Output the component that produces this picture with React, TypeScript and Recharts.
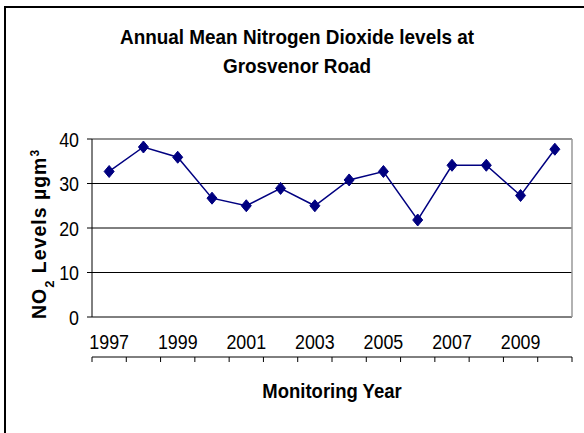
import { LineChart, Line, XAxis, YAxis, CartesianGrid, ReferenceLine, Label } from "recharts"

// Annual mean NO2 at Grosvenor Road
const years = [1997, 1998, 1999, 2000, 2001, 2002, 2003, 2004, 2005, 2006, 2007, 2008, 2009, 2010]
const no2 = [32.7, 38.2, 35.9, 26.7, 25.0, 28.9, 25.0, 30.8, 32.7, 21.8, 34.1, 34.1, 27.3, 37.7]
const yTicks = [0, 10, 20, 30, 40]
const yearLabels = [1997, 1999, 2001, 2003, 2005, 2007, 2009]

const data = years.map((year, i) => ({ year, no2: no2[i] }))
// category boundaries, Excel puts the tick marks between the years
const bandEdges = [...years.map((y) => y - 0.5), years[years.length - 1] + 0.5]
const xDomain = [bandEdges[0], bandEdges[bandEdges.length - 1]]

const SANS = "'Liberation Sans', Arial, sans-serif"
const NAVY = "#000080"
// no Arial Narrow here, so squeeze Liberation Sans instead
const SQUEEZE = 0.85

const Diamond = (props: any) => {
  const { cx, cy } = props
  if (cx == null || cy == null) return null
  return <path d={`M${cx},${cy - 6} L${cx + 5},${cy} L${cx},${cy + 6} L${cx - 5},${cy} Z`} fill={NAVY} stroke={NAVY} />
}

const XTick = (props: any) => {
  const { x, y, payload } = props
  return (
    <text transform={`translate(${x},${y}) scale(${SQUEEZE},1)`} y={15} textAnchor="middle" fontFamily={SANS} fontSize={21} fill="#000">
      {payload.value}
    </text>
  )
}

const YTick = (props: any) => {
  const { x, y, payload } = props
  return (
    <text transform={`translate(${x},${y}) scale(${SQUEEZE},1)`} y={7.5} textAnchor="end" fontFamily={SANS} fontSize={21} fill="#000">
      {payload.value}
    </text>
  )
}

const YTitle = (props: any) => {
  const vb = props.viewBox
  const x = vb.x + 46
  const y = vb.y + vb.height / 2 + 6
  return (
    <text
      x={x}
      y={y}
      transform={`rotate(-90 ${x} ${y})`}
      textAnchor="middle"
      fontFamily={SANS}
      fontWeight="bold"
      fontSize={19.5}
      letterSpacing={1}
      fill="#000"
    >
      NO<tspan baselineShift="sub" fontSize={13}>2</tspan>
      <tspan> Levels µgm</tspan>
      <tspan baselineShift="super" fontSize={12}>3</tspan>
    </text>
  )
}

export default function App() {
  return (
    <div style={{ position: "absolute", left: 0, top: 0, width: 584, height: 433, overflow: "hidden", background: "#fff" }}>
      <div
        style={{
          position: "absolute",
          left: 4,
          top: 6,
          width: 700,
          height: 600,
          borderLeft: "2px solid #000",
          borderTop: "2px solid #000",
        }}
      />
      <div
        style={{
          position: "absolute",
          left: 0,
          top: 21.5,
          width: 594,
          textAlign: "center",
          fontFamily: SANS,
          fontWeight: "bold",
          fontSize: 21,
          lineHeight: "29px",
          color: "#000",
          transform: "scaleX(0.9)",
          transformOrigin: "297px 0",
        }}
      >
        Annual Mean Nitrogen Dioxide levels at
        <br />
        Grosvenor Road
      </div>
      <div
        style={{
          position: "absolute",
          left: 92,
          top: 380,
          width: 480,
          textAlign: "center",
          fontFamily: SANS,
          fontWeight: "bold",
          fontSize: 21,
          lineHeight: "21px",
          color: "#000",
          transform: "scaleX(0.88)",
          transformOrigin: "240px 0",
        }}
      >
        Monitoring Year
      </div>
      <div style={{ position: "absolute", left: 0, top: 0 }}>
        <LineChart width={584} height={433} data={data} margin={{ top: 139, right: 12, left: 0, bottom: 70 }}>
          <CartesianGrid horizontal vertical={false} stroke="#000" strokeWidth={1} />
          <XAxis
            xAxisId="marks"
            dataKey="year"
            type="number"
            domain={xDomain}
            ticks={bandEdges}
            interval={0}
            tickFormatter={() => ""}
            tickSize={5}
            height={6}
            axisLine={{ stroke: "#000" }}
            tickLine={{ stroke: "#000" }}
          />
          <XAxis
            xAxisId="labels"
            dataKey="year"
            type="number"
            domain={xDomain}
            ticks={yearLabels}
            interval={0}
            tickSize={0}
            tickMargin={17}
            height={40}
            axisLine={false}
            tickLine={false}
            tick={<XTick />}
          />
          <YAxis
            domain={[0, 40]}
            ticks={yTicks}
            interval={0}
            width={92}
            tickSize={5}
            tickMargin={8}
            axisLine={{ stroke: "#000" }}
            tickLine={{ stroke: "#000" }}
            tick={<YTick />}
          >
            <Label content={<YTitle />} />
          </YAxis>
          <ReferenceLine y={40} xAxisId="marks" stroke="#999" strokeWidth={1.5} />
          <ReferenceLine x={xDomain[1]} xAxisId="marks" stroke="#999" strokeWidth={1.5} />
          <Line
            xAxisId="marks"
            dataKey="no2"
            stroke={NAVY}
            strokeWidth={1.5}
            dot={<Diamond />}
            activeDot={false}
            isAnimationActive={false}
          />
        </LineChart>
      </div>
    </div>
  )
}
